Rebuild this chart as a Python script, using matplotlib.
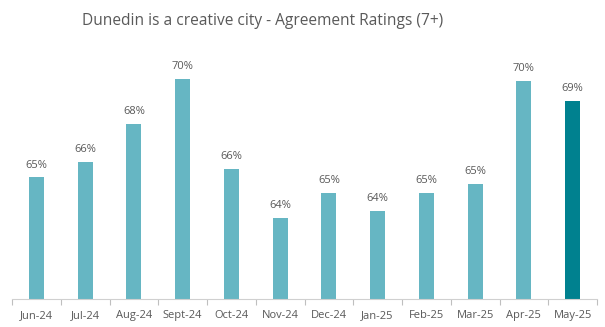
import numpy as np
from matplotlib import pyplot as plt

# Data
months = ['Jun-24', 'Jul-24', 'Aug-24', 'Sept-24', 'Oct-24', 'Nov-24',
          'Dec-24', 'Jan-25', 'Feb-25', 'Mar-25', 'Apr-25', 'May-25']
ratings = [65.4, 66.1, 67.8, 69.8, 65.8, 63.6, 64.7, 63.9, 64.7, 65.1, 69.7, 68.8]
labels = ['65%', '66%', '68%', '70%', '66%', '64%',
          '65%', '64%', '65%', '65%', '70%', '69%']

light = '#66B6C3'
dark = '#00818F'
text_grey = '#595959'

plt.rcParams['font.family'] = ['Open Sans', 'DejaVu Sans']

fig = plt.figure(figsize=(6.05, 3.27), dpi=100)
ax = fig.add_axes([12 / 605, 28 / 327, 585 / 605, 270 / 327])

x = np.arange(len(months))
colors = [light] * (len(months) - 1) + [dark]
bars = ax.bar(x, ratings, width=0.31, color=colors, bottom=0)

for xi, yi, lab in zip(x, ratings, labels):
    ax.annotate(lab, (xi, yi), textcoords='offset points', xytext=(0, 5),
                ha='center', va='bottom', fontsize=8, color=text_grey)

ax.set_ylim(60, 72)
ax.set_xlim(-0.5, len(months) - 0.5)

# category separators as ticks on the x axis
ax.set_xticks(x)
ax.set_xticklabels(months, fontsize=8, color=text_grey)
ax.tick_params(axis='x', length=0, pad=8)
ax.set_xticks(np.arange(-0.5, len(months)), minor=True)
ax.tick_params(axis='x', which='minor', length=4, color='#BFBFBF', width=0.8)
ax.set_yticks([])

for side in ['top', 'right', 'left']:
    ax.spines[side].set_visible(False)
ax.spines['bottom'].set_color('#D0D0D0')
ax.spines['bottom'].set_linewidth(0.8)

fig.text(263 / 605, 1 - 21 / 327, 'Dunedin is a creative city - Agreement Ratings (7+)',
         ha='center', va='center', fontsize=11.2, color=text_grey)

fig.savefig('out.png', dpi=100)
